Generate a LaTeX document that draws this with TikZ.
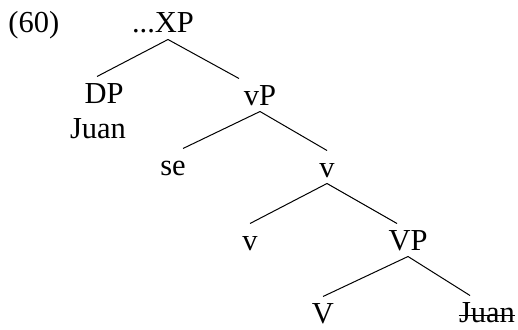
\documentclass[tikz,border=0pt]{standalone}
\usepackage{fontspec}
\setmainfont{Liberation Serif}
\usetikzlibrary{positioning}

\begin{document}
\begin{tikzpicture}[on grid,line width=1pt,
    cat/.style={font=\fontsize{30.5}{36}\selectfont,text height=20pt,text depth=0pt,inner sep=6pt}]
    \useasboundingbox (0,0) rectangle (518pt,-329pt);

    \node[cat,anchor=west,inner xsep=0pt] (num) at (8pt,-23pt) {(60)};
    \node[cat] (xp) at (163pt,-23pt) {...XP};
    \node[cat] (dp) [below left=70pt and 59pt of xp] {DP};
    \node[cat] (juan) [below left=35pt and 6pt of dp] {Juan};
    \node[cat] (vp) [below right=72pt and 97pt of xp] {vP};
    \node[cat] (se) [below left=70pt and 87pt of vp] {se};
    \node[cat] (vbar) [below right=72pt and 67pt of vp] {v};
    \node[cat] (v) [below left=73pt and 77pt of vbar] {v};
    \node[cat] (bigvp) [below right=73pt and 81pt of vbar] {VP};
    \node[cat] (bigv) [below left=73pt and 85pt of bigvp] {V};
    \node[cat,inner xsep=0pt] (trace) [below right=72pt and 79pt of bigvp] {Juan};

    \path
    ([xshift=5pt]xp.south) edge ([xshift=-7pt]dp.north)
    ([xshift=5pt]xp.south) edge ([xshift=-21pt]vp.north)
    (vp.south) edge ([xshift=10pt]se.north)
    (vp.south) edge (vbar.north)
    (vbar.south) edge (v.north)
    (vbar.south) edge ([xshift=-11pt]bigvp.north)
    (bigvp.south) edge (bigv.north)
    (bigvp.south) edge ([xshift=-17pt]trace.north);
    % struck-out copy
    \draw ([yshift=13pt]trace.south west) -- ([yshift=13pt]trace.south east);
\end{tikzpicture}
\end{document}
